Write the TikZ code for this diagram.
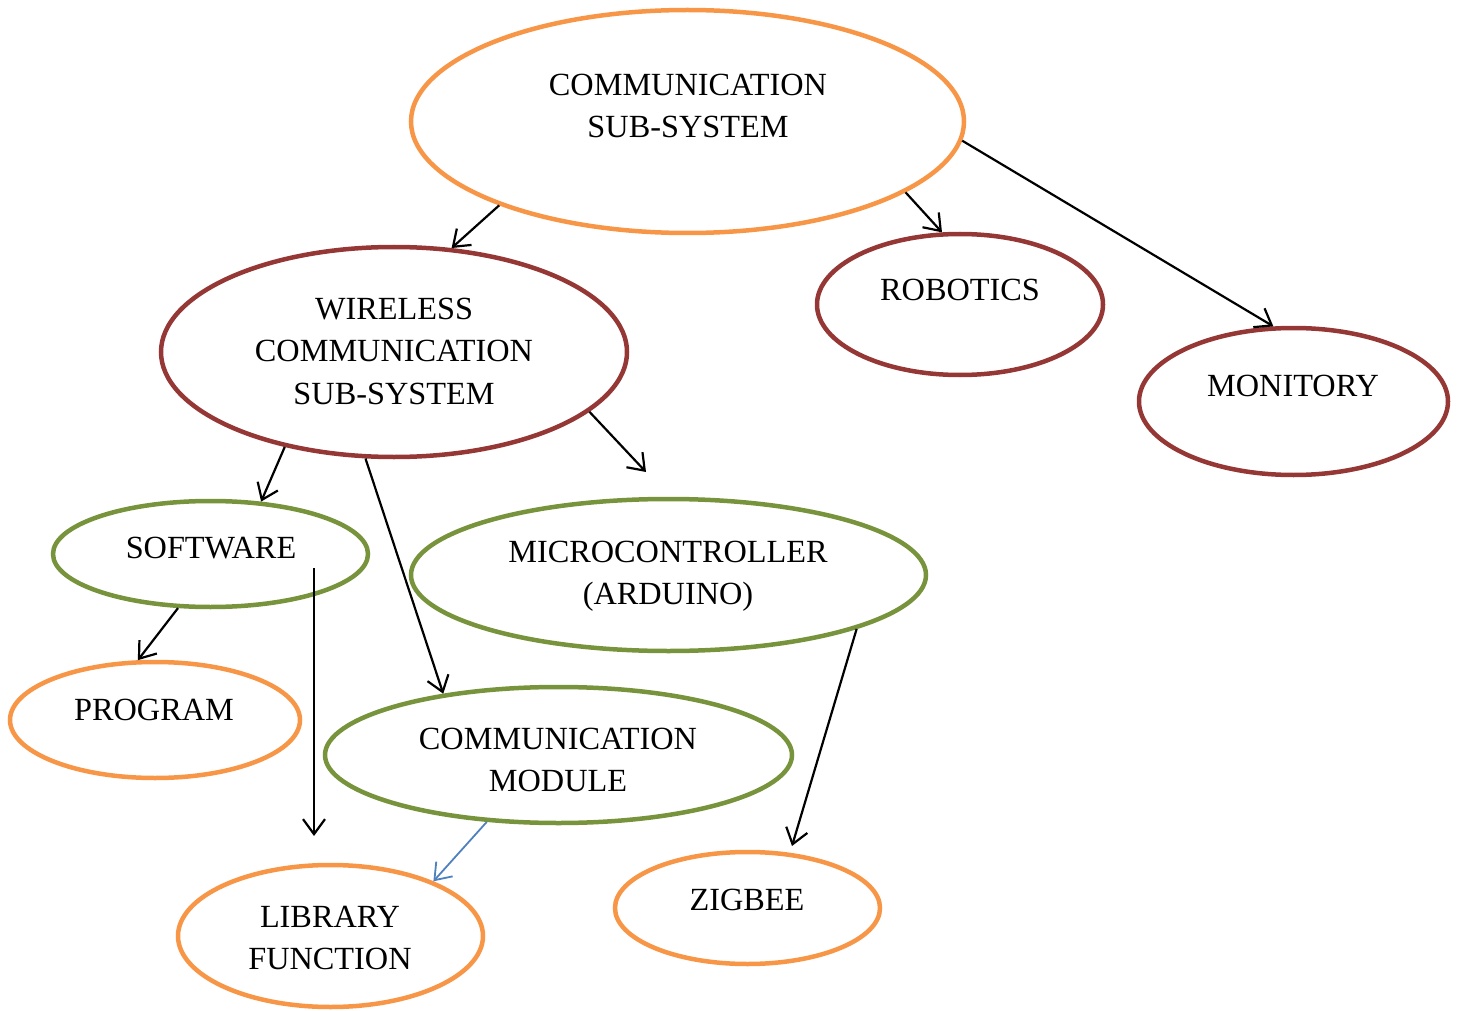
\documentclass[tikz,border=0pt]{standalone}
\usepackage{fontspec}
\setmainfont{Liberation Serif}
\usetikzlibrary{shapes.geometric,arrows.meta}
\definecolor{ovorange}{HTML}{F79646}
\definecolor{ovred}{HTML}{953735}
\definecolor{ovgreen}{HTML}{77933C}
\definecolor{linkblue}{HTML}{4F81BD}
\begin{document}
\begin{tikzpicture}[x=1pt,y=-1pt,
  oval/.style args={#1/#2}{ellipse,draw,line width=4.5pt,inner sep=0pt,
    minimum width=#1pt,minimum height=#2pt},
  lvl1/.style={oval=#1,draw=ovorange},
  lvl2/.style={oval=#1,draw=ovred},
  lvl3/.style={oval=#1,draw=ovgreen},
  label text/.style={align=center,inner sep=0pt,
    font=\fontsize{32.3}{42.5}\selectfont},
  link/.style={line width=2.2pt,-{Straight Barb[length=15pt,width=22pt]}},
  bluelink/.style={line width=1.8pt,draw=linkblue,-{Straight Barb[length=15pt,width=22pt]}}]
\useasboundingbox (0,0) rectangle (1460,1011);

% ovals
\node[lvl1={553/223}] (css) at (687.5,121.5) {};
\node[lvl2={466/210}] (wl) at (394,352) {};
\node[lvl2={286/141}] (rob) at (960,304.5) {};
\node[lvl2={309/147}] (mon) at (1293.5,401.5) {};
\node[lvl3={315/106}] (sw) at (210.5,554) {};
\node[lvl3={515/152}] (mcu) at (668.5,575) {};
\node[lvl1={290/116}] (prog) at (155,720) {};
\node[lvl3={467/136}] (cm) at (558.5,755) {};
\node[lvl1={305/142}] (lib) at (330.5,936) {};
\node[lvl1={265/112}] (zig) at (747.5,908) {};

% texts
\node[label text] (css-t) at (688,106) {COMMUNICATION\\SUB-SYSTEM};
\node[label text] (wl-t) at (394,351) {WIRELESS\\COMMUNICATION\\SUB-SYSTEM};
\node[label text] (rob-t) at (960,290) {ROBOTICS};
\node[label text] (mon-t) at (1293,386) {MONITORY};
\node[label text] (sw-t) at (211,548) {SOFTWARE};
\node[label text] (mcu-t) at (668,576) {MICROCONTROLLER\\(ARDUINO)};
\node[label text] (prog-t) at (154,710) {PROGRAM};
\node[label text] (cm-t) at (558,760) {COMMUNICATION\\MODULE};
\node[label text] (lib-t) at (330,938) {LIBRARY\\FUNCTION};
\node[label text] (zig-t) at (747,900) {ZIGBEE};

% free arrow ends
\coordinate (mcu-in) at (646,472);
\coordinate (sw-out) at (314,568);
\coordinate (lib-in) at (314,836);
\coordinate (zig-in) at (792,846);

% connectors
\draw[link] (css.204.4) -- (wl.61);
\draw[link] (css.342.5) -- (rob.104.7);
\draw[link] (css.356.6) -- (mon.105.6);
\draw[link] (wl.221.8) -- (sw.46.8);
\draw[link] (wl.255.6) -- (cm.152.2);
\draw[link] (wl.343.7) -- (mcu-in);
\draw[link] (sw.239.4) -- (prog.106.3);
\draw[link] (sw-out) -- (lib-in);
\draw[bluelink] (cm.223.5) -- (lib.28.7);
\draw[link] (mcu.344.9) -- (zig-in);
\end{tikzpicture}
\end{document}
